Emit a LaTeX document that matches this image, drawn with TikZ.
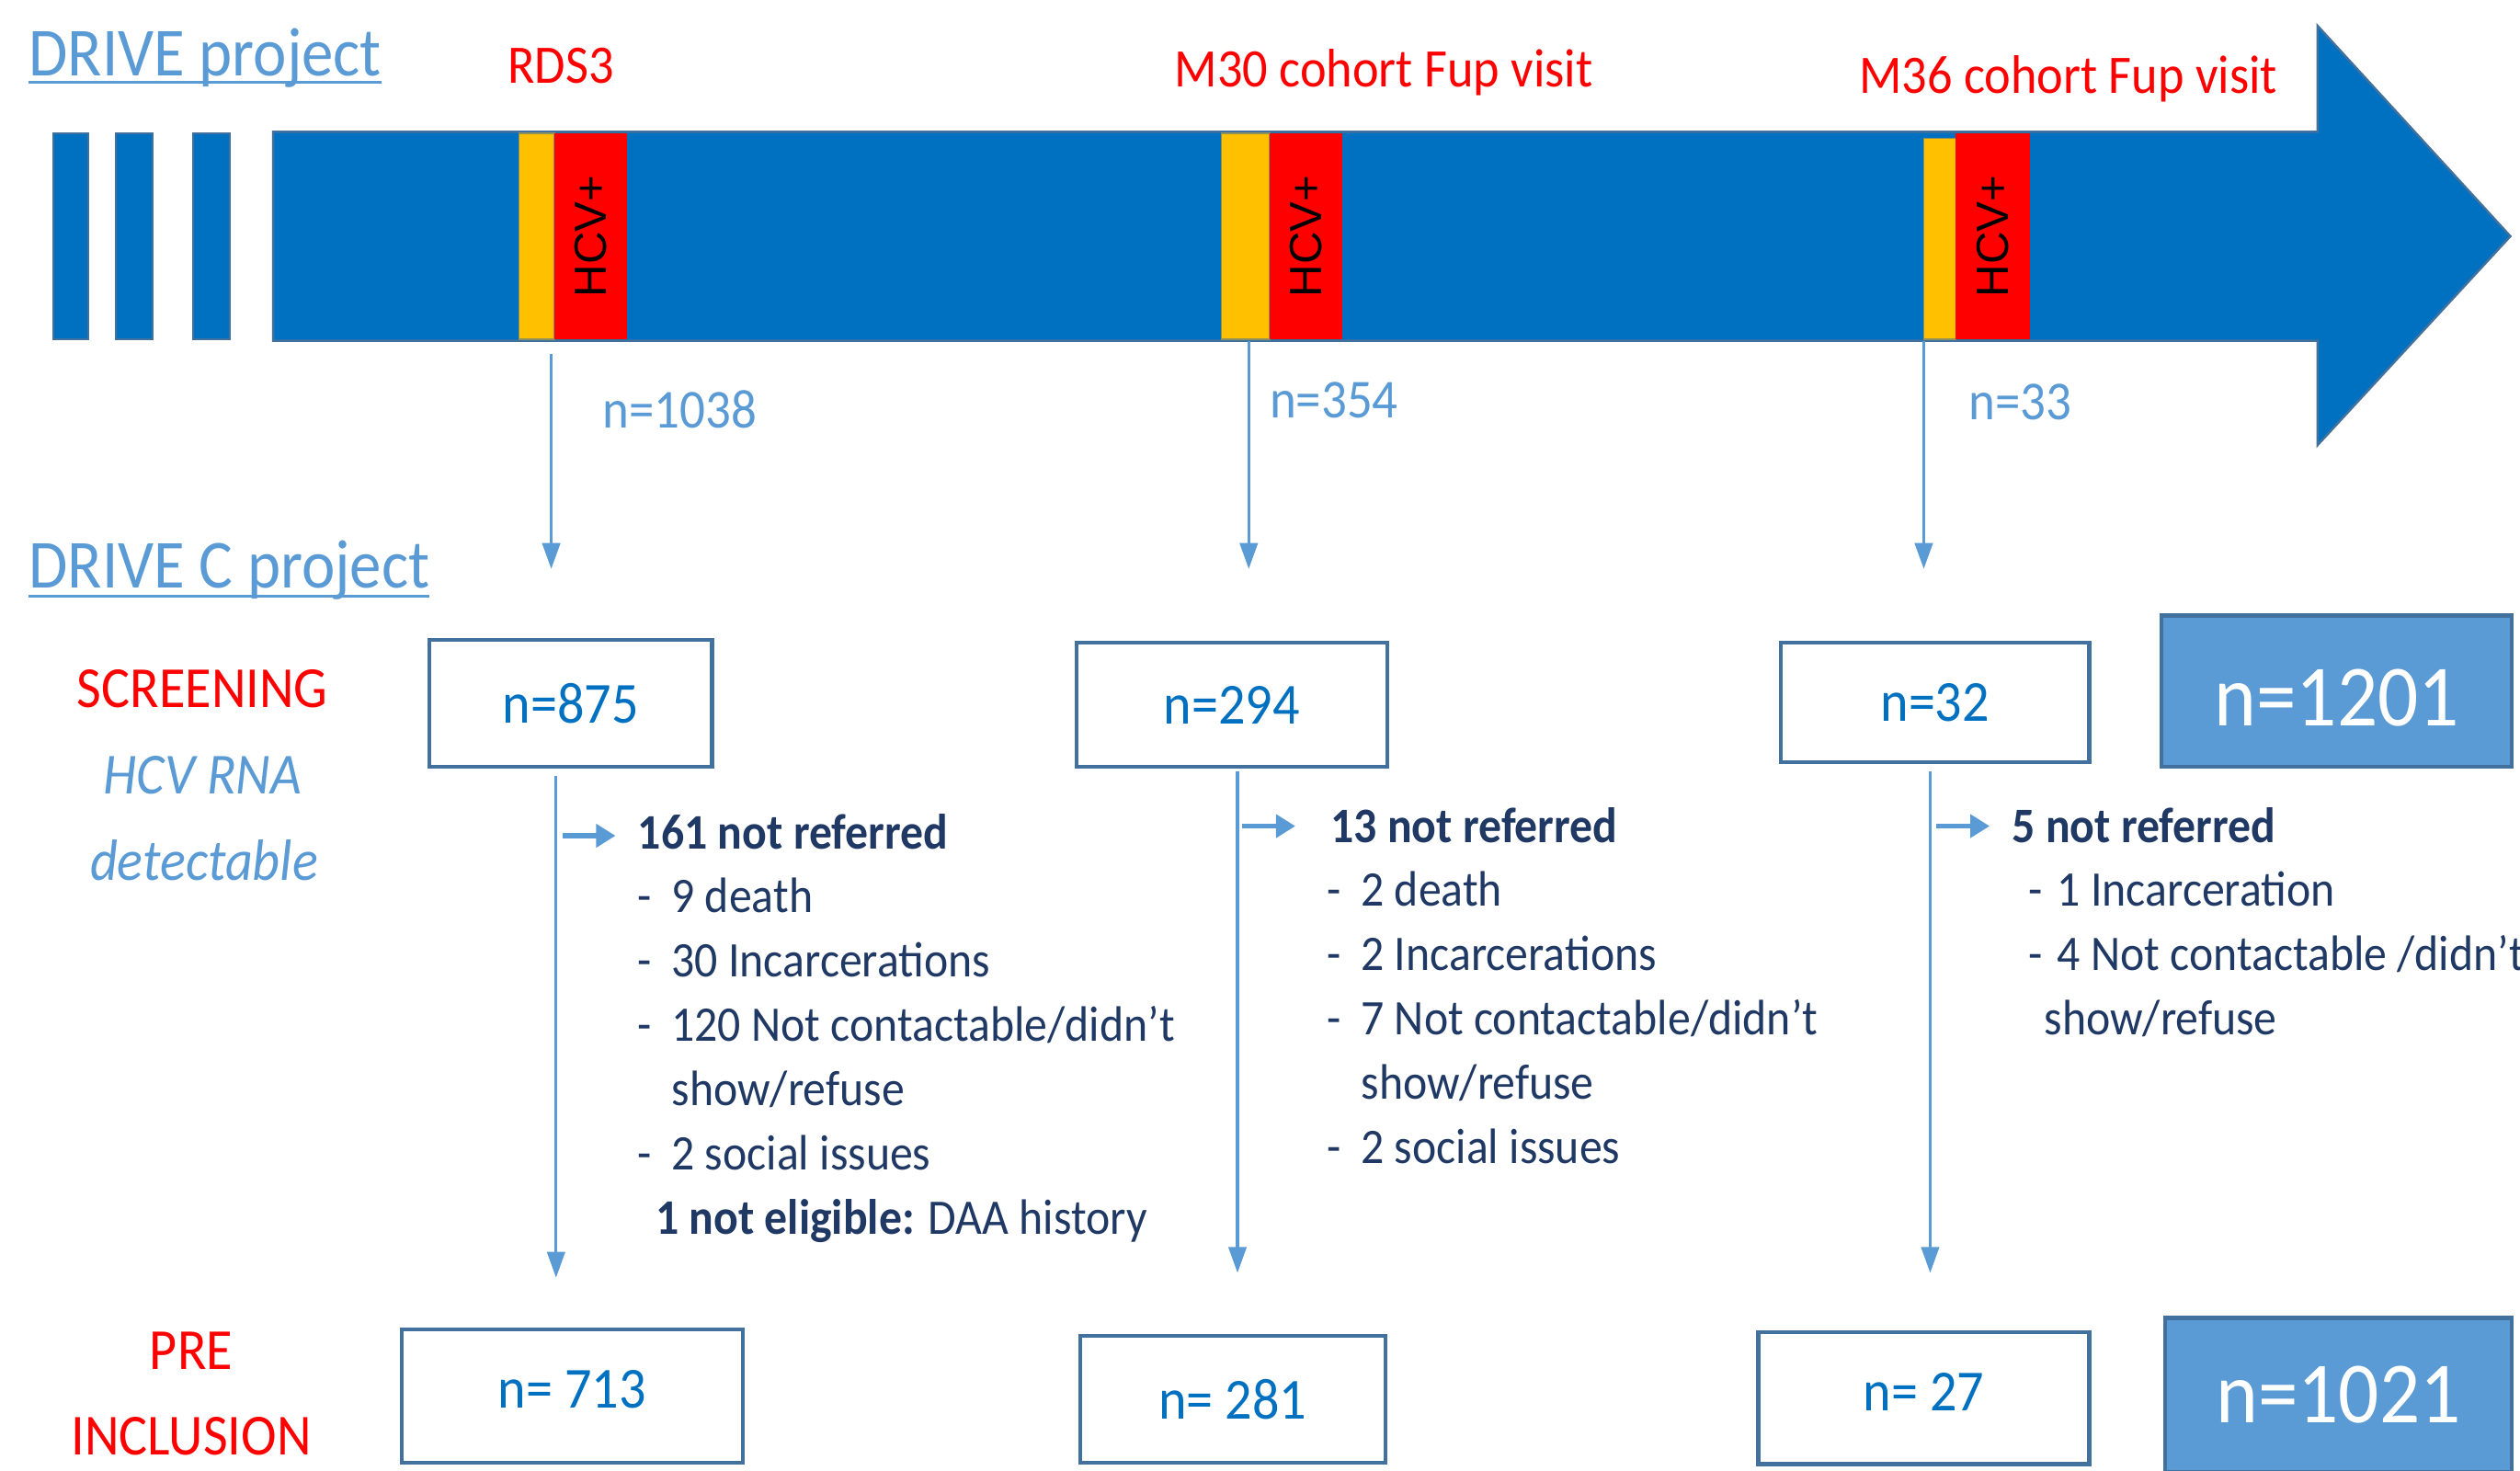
\documentclass[tikz,border=0pt]{standalone}
\usepackage{fontspec}
\setmainfont{Carlito}[FakeStretch=0.92]
\newfontfamily\arialf{Liberation Sans}
\usetikzlibrary{arrows.meta,fit}
\definecolor{barblue}{HTML}{0070C0}
\definecolor{baredge}{HTML}{41719C}
\definecolor{hcvorange}{HTML}{FFC000}
\definecolor{hcvred}{HTML}{FF0000}
\definecolor{lightblue}{HTML}{5B9BD5}
\definecolor{navy}{HTML}{1F3864}
\newcommand\myfs[1]{\fontsize{#1}{#1}\selectfont}
\newcommand\dsh[1]{\makebox[#1][l]{-}}
\begin{document}
\begin{tikzpicture}[x=0.01748cm,y=-0.01748cm,
  txt/.style={inner sep=0pt,outer sep=0pt,anchor=base west},
  ctxt/.style={inner sep=0pt,outer sep=0pt,anchor=base},
  titlest/.style={txt,text=lightblue,font=\myfs{21.3}},
  visitst/.style={txt,text=hcvred,font=\myfs{16.8}},
  nlab/.style={txt,text=lightblue,font=\myfs{17}},
  stage/.style={ctxt,text=hcvred,font=\myfs{18}},
  stagesub/.style={ctxt,text=lightblue,font=\myfs{18}\itshape},
  lst/.style={txt,text=navy,font=\myfs{15.4}},
  smallbar/.style={fill=barblue,draw=baredge,line width=0.6pt,inner sep=0pt},
  orangest/.style={fill=hcvorange,draw=baredge!60!hcvorange,line width=0.4pt,inner sep=0pt},
  redst/.style={fill=hcvred,inner sep=0pt},
  hcvtxt/.style={inner sep=0pt,rotate=90,font=\arialf\myfs{14}},
  boxst/.style={draw=baredge,line width=1.2pt,fill=white,inner sep=0pt},
  boxtxt/.style={inner sep=0pt,anchor=center,text=barblue,font=\myfs{18}},
  totst/.style={draw=baredge,line width=1.2pt,fill=lightblue,inner sep=0pt},
  tottxt/.style={inner sep=0pt,anchor=center,text=white,font=\myfs{27}},
  conn/.style={draw=lightblue,line width=0.9pt,-{Triangle[width=5.5pt,length=8pt]}},
  sconn/.style={draw=lightblue,line width=1.6pt,-{Triangle[width=7pt,length=6pt]}}
]
\useasboundingbox (0,0) rectangle (1568,915);

% titles
\node[titlest] (drive) at (18,47) {DRIVE project};
\draw[lightblue,line width=0.9pt] ([yshift=-2pt]drive.base west) -- ([yshift=-2pt]drive.base east);
\node[titlest] (drivec) at (18,366) {DRIVE C project};
\draw[lightblue,line width=0.9pt] ([yshift=-2.5pt]drivec.base west) -- ([yshift=-2.5pt]drivec.base east);

% small bars
\node[smallbar,fit={(33,83) (55,211)}] (sb1) {};
\node[smallbar,fit={(72,83) (95,211)}] (sb2) {};
\node[smallbar,fit={(120,83) (143,211)}] (sb3) {};

% main arrow
\filldraw[fill=barblue,draw=baredge,line width=0.7pt]
  (170,82) -- (1442,82) -- (1442,16) -- (1562,147) -- (1442,277) -- (1442,212) -- (170,212) -- cycle;

% HCV blocks
\node[orangest,fit={(323,83) (345,211)}] (o1) {};
\node[redst,fit={(345,83) (390,211)}] (r1) {};
\node[hcvtxt] (h1) at (r1.center) {HCV+};
\node[orangest,fit={(760,83) (790,211)}] (o2) {};
\node[redst,fit={(790,83) (835,211)}] (r2) {};
\node[hcvtxt] (h2) at (r2.center) {HCV+};
\node[orangest,fit={(1197,86) (1217,211)}] (o3) {};
\node[redst,fit={(1217,83) (1263,211)}] (r3) {};
\node[hcvtxt] (h3) at (r3.center) {HCV+};

% visit labels
\node[visitst] (rds) at (316,52) {RDS3};
\node[visitst] (m30) at (731,54) {M30 cohort Fup visit};
\node[visitst] (m36) at (1157,58) {M36 cohort Fup visit};

% top arrows
\coordinate (ta1) at (343,220); \coordinate (te1) at (343,354);
\coordinate (ta2) at (777,212); \coordinate (te2) at (777,354);
\coordinate (ta3) at (1197,212); \coordinate (te3) at (1197,354);
\draw[conn] (ta1) -- (te1);
\draw[conn] (ta2) -- (te2);
\draw[conn] (ta3) -- (te3);
\node[nlab] (n1038) at (375,266) {n=1038};
\node[nlab] (n354) at (790,260) {n=354};
\node[nlab] (n33) at (1225,261) {n=33};

% stage labels
\node[stage] (scr) at (126,440) {SCREENING};
\node[stagesub] (hcvrna) at (126,494) {HCV RNA};
\node[stagesub] (detect) at (127,548) {detectable};
\node[stage] (pre) at (119,852) {PRE};
\node[stage] (incl) at (119,905) {INCLUSION};

% screening boxes
\node[boxst,fit={(267,398) (443,477)}] (b875) {};
\node[boxtxt] (t875) at (b875.center) {n=875};
\node[boxst,fit={(670,400) (863,477)}] (b294) {};
\node[boxtxt] (t294) at (b294.center) {n=294};
\node[boxst,fit={(1108,400) (1300,474)}] (b32) {};
\node[boxtxt] (t32) at (b32.center) {n=32};
\node[totst,fit={(1345,383) (1563,477)}] (b1201) {};
\node[tottxt] (t1201) at ([yshift=-2pt]b1201.center) {n=1201};

% pre-inclusion boxes
\node[boxst,fit={(250,827) (462,910)}] (b713) {};
\node[boxtxt] (t713) at ([yshift=2pt]b713.center) {n= 713};
\node[boxst,fit={(672,831) (862,910)}] (b281) {};
\node[boxtxt] (t281) at (b281.center) {n= 281};
\node[boxst,fit={(1094,829) (1300,911)}] (b27) {};
\node[boxtxt] (t27) at ([yshift=2pt]b27.center) {n= 27};
\node[totst,fit={(1347,820) (1563,916)}] (b1021) {};
\node[tottxt] (t1021) at (b1021.center) {n=1021};

% lower arrows
\coordinate (la1) at (346,483); \coordinate (le1) at (346,795);
\coordinate (la2) at (770,480); \coordinate (le2) at (770,792);
\coordinate (la3) at (1201,480); \coordinate (le3) at (1201,792);
\draw[conn] (la1) -- (le1);
\draw[conn] (la2) -- (le2);
\draw[conn] (la3) -- (le3);

% side arrows
\coordinate (sa1) at (350,520); \coordinate (se1) at (383,520);
\coordinate (sa2) at (773,514); \coordinate (se2) at (806,514);
\coordinate (sa3) at (1205,514); \coordinate (se3) at (1238,514);
\draw[sconn] (sa1) -- (se1);
\draw[sconn] (sa2) -- (se2);
\draw[sconn] (sa3) -- (se3);

% column 1
\node[lst] (c1h) at (397,528) {\bfseries 161 not referred};
\node[lst] (c1a) at (397,568) {\dsh{10.4pt}9 death};
\node[lst] (c1b) at (397,608) {\dsh{10.4pt}30 Incarcerations};
\node[lst] (c1c) at (397,648) {\dsh{10.4pt}120 Not contactable/didn’t};
\node[lst] (c1d) at (418,688) {show/refuse};
\node[lst] (c1e) at (397,728) {\dsh{10.4pt}2 social issues};
\node[lst] (c1f) at (408,768) {{\bfseries 1 not eligible:} DAA history};

% column 2
\node[lst] (c2h) at (828,524) {\bfseries 13 not referred};
\node[lst] (c2a) at (826,564) {\dsh{10.4pt}2 death};
\node[lst] (c2b) at (826,604) {\dsh{10.4pt}2 Incarcerations};
\node[lst] (c2c) at (826,644) {\dsh{10.4pt}7 Not contactable/didn’t};
\node[lst] (c2d) at (847,684) {show/refuse};
\node[lst] (c2e) at (826,724) {\dsh{10.4pt}2 social issues};

% column 3
\node[lst] (c3h) at (1252,524) {\bfseries 5 not referred};
\node[lst] (c3a) at (1262,564) {\dsh{9pt}1 Incarceration};
\node[lst] (c3b) at (1262,604) {\dsh{9pt}4 Not contactable /didn’t};
\node[lst] (c3c) at (1272,644) {show/refuse};
\end{tikzpicture}
\end{document}
